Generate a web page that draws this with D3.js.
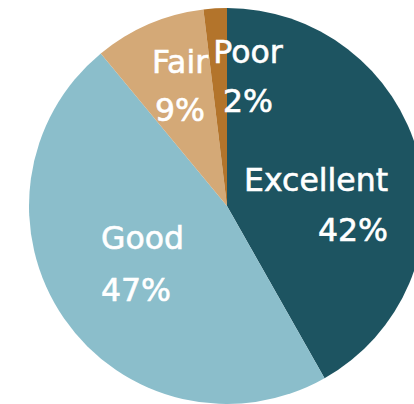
<!DOCTYPE html>
<html><head><meta charset="utf-8">
<script src="https://cdn.jsdelivr.net/npm/d3@7"></script>
<style>html,body{margin:0;padding:0;background:#fff;overflow:hidden}</style>
</head><body>
<svg id="chart" width="414" height="404"></svg>
<script>
const categories = ["Excellent", "Good", "Fair", "Poor"];
const values = [41.8, 47.2, 9.1, 1.9];
const colors = ["#1d5461", "#8bbecb", "#d4a977", "#b3742b"];

const W = 414, H = 404;
const cx = 227, cy = 206, r = 198;
const svg = d3.select("#chart");
const g = svg.append("g").attr("transform", `translate(${cx},${cy})`);

const data = categories.map((c, i) => ({cat: c, value: values[i], color: colors[i]}));
const pie = d3.pie().value(d => d.value).sort(null);
const arc = d3.arc().innerRadius(0).outerRadius(r);
const arcs = pie(data);

g.selectAll("path").data(arcs).join("path")
  .attr("d", arc).attr("fill", d => d.data.color);

// label layout (offsets from centre, anchor, line spacing)
const labelLayout = {
  Excellent: {x: 161, y: -15, anchor: "end", lh: 50},
  Good: {x: -126, y: 43, anchor: "start", lh: 52},
  Fair: {x: -47, y: -133, anchor: "middle", lh: 48},
  Poor: {x: 21, y: -143, anchor: "middle", lh: 49}
};
const fs = 31.5;
const total = d3.sum(values);
arcs.forEach(a => {
  const L = labelLayout[a.data.cat];
  const t = g.append("text")
    .attr("text-anchor", L.anchor)
    .attr("font-family", "'DejaVu Sans', sans-serif")
    .attr("font-size", fs)
    .attr("fill", "#fff")
    .attr("stroke", "#fff")
    .attr("stroke-width", 0.6);
  t.append("tspan").attr("x", L.x).attr("y", L.y).text(a.data.cat);
  t.append("tspan").attr("x", L.x).attr("y", L.y + L.lh)
    .text(Math.round(a.data.value / total * 100) + "%");
});
</script>
</body></html>
